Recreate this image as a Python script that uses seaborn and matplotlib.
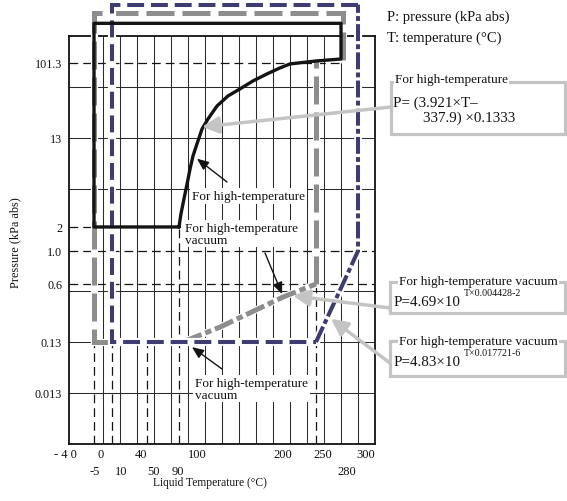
import numpy as np
import pandas as pd
import matplotlib
matplotlib.use('Agg')
import matplotlib.pyplot as plt
from matplotlib.patches import Rectangle
import seaborn as sns

W, H = 567, 502

# ---- values (T in degC, P in kPa abs) ----
curve_T = [90, 91.5, 93.8, 96.2, 98.5, 101.1, 105.5, 111, 117.6, 127.5, 139.6,
           152.7, 167, 182.4, 196.7, 210.6, 250, 280]
curve_P = [2, 2.63, 3.6, 4.94, 6.78, 8.9, 11.5, 16.6, 21.9, 31.2, 41.1,
           49.8, 61.9, 75.1, 88.5, 98.7, 107, 113]

# black envelope: curve, then box round the top and left
black_T = curve_T + [280, -5, -5, 90]
black_P = curve_P + [300, 300, 2, 2]

# gray (high-temperature vacuum) envelope
gray_side_T = [250, 250]
gray_side_P = [0.6, 107]
gray_box_T = [282, 282, -5, -5, 50]
gray_box_P = [110, 400, 400, 0.13, 0.13]
gray_diag_T = [93, 131, 200, 250]
gray_diag_P = [0.13, 0.193, 0.425, 0.6]

# blue (high-temperature vacuum) envelope
blue_box_T = [300, 10, 10, 250]
blue_box_P = [500, 500, 0.13, 0.13]
blue_diag_T = [250, 270, 285, 300, 300]
blue_diag_P = [0.13, 0.336, 0.65, 1.0, 500]

# thin dashed reference lines
hline_P = [101.3, 2, 1.0, 0.6]
hline_T0 = [-40, -40, -40, -40]
hline_T1 = [280, -5, 320, 320]
vline_T = [-5, 10, 50, 90, 250]
vline_P1 = [0.13, 0.13, 0.13, 2, 0.6]

ytick_vals = [0.013, 0.13, 0.6, 1.0, 2, 13, 101.3]
ytick_labels = ['0.013', '0.13', '0.6', '1.0', '2', '13', '101.3']
xtick_row1 = [-40, 0, 40, 100, 200, 250, 300]
xlab_row1 = ['- 4 0', '0', '40', '100', '200', '250', '300']
xtick_row2 = [-5, 10, 50, 90, 280]
xlab_row2 = ['-5', '10', '50', '90', '280']

# arrow targets on the curves
head_a = (105.5, 8.4)
head_b = (199, 0.46)
head_c = (100, 0.103)
head_box1 = (111, 17.6)
head_box2 = (215, 0.44)
head_box3 = (268, 0.24)

# ---- the schematic (non-uniform) axis scales ----
T_KNOTS = [-40, -5, 0, 10, 40, 50, 90, 100, 200, 250, 280, 300, 320]
X_POS = [69, 94, 102, 112, 139, 147, 179, 192, 283, 316, 341, 358, 375]
LOGP_KNOTS = np.log10([0.0013, 0.013, 0.13, 0.6, 1.0, 2, 13, 101.3, 1000])
Y_POS = [0, 1, 2, 3.137, 3.784, 4.255, 6.0, 7.47, 9.11]


def fwd_x(t):
    return np.interp(np.asarray(t, dtype=float), T_KNOTS, X_POS)


def inv_x(p):
    return np.interp(np.asarray(p, dtype=float), X_POS, T_KNOTS)


def fwd_y(p):
    p = np.clip(np.asarray(p, dtype=float), 1e-9, None)
    return np.interp(np.log10(p), LOGP_KNOTS, Y_POS)


def inv_y(r):
    return 10 ** np.interp(np.asarray(r, dtype=float), Y_POS, LOGP_KNOTS)


BLACK = '#141414'
GRAY = '#8d8d8d'
BLUE = '#3e3c70'
LIGHT = '#c4c4c4'

sns.set_theme(style='white')
plt.rcParams['font.family'] = ['Liberation Serif', 'DejaVu Serif']

fig = plt.figure(figsize=(W / 100, H / 100), dpi=100)
ax = fig.add_axes([69 / W, 1 - 445 / H, 306 / W, 408 / H])
ax.set_xscale('function', functions=(fwd_x, inv_x))
ax.set_yscale('function', functions=(fwd_y, inv_y))
ax.set_xlim(-40, 320)
ax.set_ylim(0.0013, 212)

# grid: 18 columns, 8 rows (row 4 left out as in the reference)
for c in range(2, 18):
    ax.plot([c / 18, c / 18], [0, 1], transform=ax.transAxes, color='#2a2a2a', lw=0.75, zorder=1)
for r in [1, 2, 3, 5, 6, 7]:
    ax.plot([0, 1], [r / 8, r / 8], transform=ax.transAxes, color='#2a2a2a', lw=0.75, zorder=1)

ref_ls = (0, (7, 4))
for p, t0, t1 in zip(hline_P, hline_T0, hline_T1):
    ax.plot([t0, t1], [p, p], color=BLACK, lw=0.9, linestyle=ref_ls, zorder=2)
for t, p1 in zip(vline_T, vline_P1):
    ax.plot([t, t], [0.0013, p1], color=BLACK, lw=0.9, linestyle=ref_ls, zorder=2)


def draw(T, P, color, lw, ls, z, halo=0.0):
    df = pd.DataFrame({'T': T, 'P': P})
    if halo:
        sns.lineplot(data=df, x='T', y='P', sort=False, estimator=None, ax=ax,
                     color='white', linewidth=lw + halo, zorder=z - 0.05,
                     clip_on=False, solid_joinstyle='miter')
    sns.lineplot(data=df, x='T', y='P', sort=False, estimator=None, ax=ax,
                 color=color, linewidth=lw, linestyle=ls, zorder=z,
                 clip_on=False, solid_joinstyle='round', dash_joinstyle='miter')


dash_gray = (0, (5.6, 1.6))
dashdot_gray = (0, (4, 0.8, 1.3, 0.8))
dash_blue = (0, (4.2, 1.7))
dashdot_blue = (0, (4.2, 0.8, 1.2, 0.8))

draw(gray_side_T, gray_side_P, GRAY, 3.6, dash_gray, 3, halo=1.5)
draw(gray_box_T, gray_box_P, GRAY, 3.6, dash_gray, 3, halo=1.5)
draw(gray_diag_T, gray_diag_P, GRAY, 3.6, dashdot_gray, 3, halo=1.5)
draw(blue_box_T, blue_box_P, BLUE, 2.9, dash_blue, 4, halo=3.0)
draw(blue_diag_T, blue_diag_P, BLUE, 2.9, dashdot_blue, 4, halo=3.0)
draw(black_T, black_P, BLACK, 2.4, '-', 5)

ax.set_xlim(-40, 320)
ax.set_ylim(0.0013, 212)
ax.set_xlabel('')
ax.set_ylabel('')
ax.set_xticks([])
ax.set_yticks(ytick_vals, labels=ytick_labels, fontsize=8.7)
ax.tick_params(axis='both', which='both', length=0, pad=5, colors='#111111')
for s in ax.spines.values():
    s.set_linewidth(1.3)
    s.set_color('#111111')
    s.set_zorder(2)

# two rows of x tick labels
dx1 = [-4, -1, 2, 5, 0, 7, 8]
dx2 = [1, 9, 7, -1, 6]
for t, lab, dx in zip(xtick_row1, xlab_row1, dx1):
    ax.annotate(lab, xy=(t, 0), xycoords=('data', 'axes fraction'), xytext=(dx, -10),
                textcoords='offset pixels', ha='center', va='center', fontsize=9,
                color='#111111', annotation_clip=False)
for t, lab, dx in zip(xtick_row2, xlab_row2, dx2):
    ax.annotate(lab, xy=(t, 0), xycoords=('data', 'axes fraction'), xytext=(dx, -27),
                textcoords='offset pixels', ha='center', va='center', fontsize=9,
                color='#111111', annotation_clip=False)


def ftxt(x, y, s, **kw):
    kw.setdefault('color', '#111111')
    return fig.text(x / W, 1 - y / H, s, **kw)


ftxt(210, 483, 'Liquid Temperature (°C)', fontsize=8.3, ha='center', va='center')
ftxt(15, 243, 'Pressure (kPa abs)', fontsize=8.8, ha='center', va='center', rotation=90)

ftxt(387, 17, 'P: pressure (kPa abs)', fontsize=10.5, va='center')
ftxt(387, 38, 'T: temperature (°C)', fontsize=10.5, va='center')

white_bg = dict(boxstyle='square,pad=0.12', fc='white', ec='none')
ftxt(192, 197, 'For high-temperature', fontsize=9.5, va='center', bbox=white_bg)
ftxt(185, 223, 'For high-temperature\nvacuum', fontsize=9.5, va='top', linespacing=0.95, bbox=white_bg)
ftxt(195, 378, 'For high-temperature\nvacuum', fontsize=9.5, va='top', linespacing=0.95, bbox=white_bg)

# formula boxes
boxes = [(391, 83, 565, 135), (390, 283, 565, 314), (390, 342, 565, 377)]
for x0, y0, x1, y1 in boxes:
    fig.add_artist(Rectangle((x0 / W, 1 - y1 / H), (x1 - x0) / W, (y1 - y0) / H,
                             transform=fig.transFigure, fill=False, ec=LIGHT, lw=2.3, zorder=2))

title_bg = dict(boxstyle='square,pad=0.08', fc='white', ec='none')
ftxt(395, 80, 'For high-temperature', fontsize=9.5, va='center', bbox=title_bg, zorder=4)
ftxt(399, 282, 'For high-temperature vacuum', fontsize=9.5, va='center', bbox=title_bg, zorder=4)
ftxt(399, 342, 'For high-temperature vacuum', fontsize=9.5, va='center', bbox=title_bg, zorder=4)

ftxt(393, 103, 'P= (3.921×T–', fontsize=10.8, va='center')
ftxt(423, 118, '337.9) ×0.1333', fontsize=10.8, va='center')
ftxt(394, 302, 'P=4.69×10', fontsize=10.8, va='center')
ftxt(464, 294, 'T×0.004428-2', fontsize=7.2, va='center', zorder=5)
ftxt(394, 362, 'P=4.83×10', fontsize=10.8, va='center')
ftxt(464, 354, 'T×0.017721-6', fontsize=7.2, va='center', zorder=5)


def arrow(head, tail_px, color, lw, style, ms):
    ax.annotate('', xy=head, xycoords='data', xytext=(tail_px[0], H - tail_px[1]),
                textcoords='figure pixels', annotation_clip=False, zorder=7,
                arrowprops=dict(arrowstyle=style, color=color, lw=lw, shrinkA=0,
                                shrinkB=0, mutation_scale=ms))


big = '-|>,head_length=0.9,head_width=0.45'
arrow(head_box1, (391, 108), LIGHT, 2.5, big, 11)
arrow(head_box2, (390, 309), LIGHT, 2.5, big, 11)
arrow(head_box3, (390, 364), LIGHT, 2.5, big, 11)

small = '-|>,head_length=0.7,head_width=0.3'
arrow(head_a, (227, 183), BLACK, 1.0, small, 10)
arrow(head_b, (265, 254), BLACK, 1.0, small, 10)
arrow(head_c, (222, 370), BLACK, 1.0, small, 10)

fig.savefig('out.png', dpi=100)
